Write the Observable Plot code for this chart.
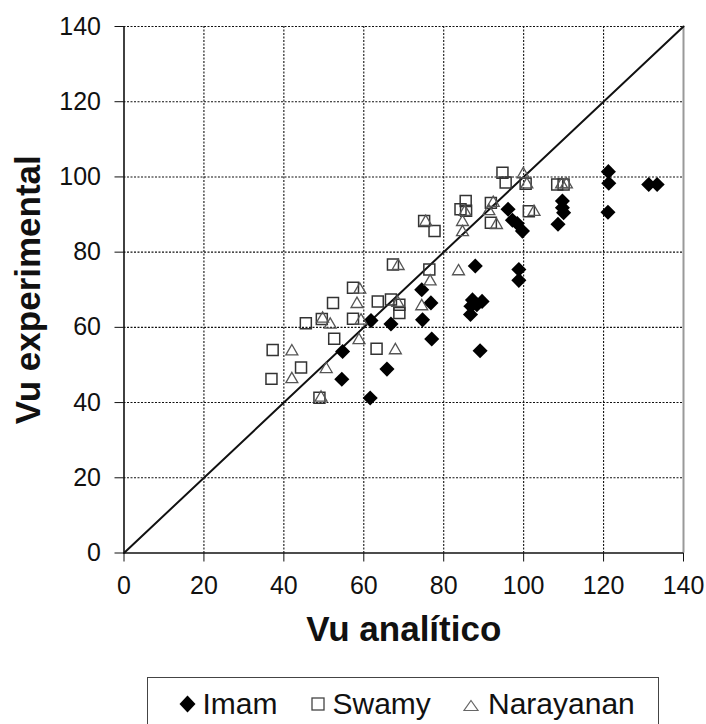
<!DOCTYPE html>
<html>
<head>
<meta charset="utf-8">
<script src="https://cdn.jsdelivr.net/npm/d3@7"></script>
<script src="https://cdn.jsdelivr.net/npm/@observablehq/plot@0.6"></script>
<style>
  body { margin: 0; background: #fff; font-family: "Liberation Sans", Arial, sans-serif; }
  #wrap { position: relative; width: 706px; height: 724px; overflow: hidden; background: #fff; }
  #chart svg { display: block; }
  #legend { position: absolute; left: 147px; top: 677px; width: 512px; height: 60px;
            border: 1.5px solid #444; border-bottom: none; box-sizing: border-box; background: #fff; }
  #legend svg { display: block; }
</style>
</head>
<body>
<div id="wrap">
  <div id="chart"></div>
  <div id="legend"></div>
</div>
<script>
// ---- data ----
const xTicks = [0, 20, 40, 60, 80, 100, 120, 140];
const yTicks = [0, 20, 40, 60, 80, 100, 120, 140];
const seriesNames = ["Imam", "Swamy", "Narayanan"];
const xTitle = "Vu analítico";
const yTitle = "Vu experimental";
const identityLine = [0, 140];

const imamX = [54.5, 54.7, 61.6, 61.8, 65.8, 66.8, 74.5, 74.7, 76.8, 77.0, 87.9, 87.2, 89.6, 88.3, 86.8, 86.7, 89.1, 96.1, 97.2, 98.4, 99.7, 98.8, 98.8, 109.7, 109.7, 110.0, 108.6, 121.2, 121.3, 121.1, 131.3, 133.4];
const imamY = [46.2, 53.6, 41.2, 61.8, 48.9, 60.9, 70.0, 62.0, 66.5, 56.9, 76.3, 67.3, 66.9, 66.0, 65.6, 63.4, 53.8, 91.4, 88.5, 87.6, 85.6, 75.4, 72.5, 93.6, 91.8, 90.5, 87.4, 101.4, 98.3, 90.6, 98.0, 98.0];

const swamyX = [36.9, 37.2, 44.3, 45.5, 48.9, 49.5, 52.3, 52.6, 57.3, 57.3, 63.2, 63.5, 66.8, 67.3, 68.9, 68.9, 75.1, 77.7, 76.4, 84.2, 85.5, 85.6, 91.8, 91.8, 94.7, 95.5, 100.5, 101.3, 108.4, 110.0];
const swamyY = [46.3, 54.0, 49.3, 61.1, 41.3, 62.2, 66.5, 57.0, 70.5, 62.3, 54.3, 66.9, 67.4, 76.7, 66.0, 63.8, 88.3, 85.6, 75.4, 91.4, 93.6, 91.0, 93.1, 87.8, 101.1, 98.5, 98.2, 90.9, 98.0, 98.0];

const narX = [42.0, 42.0, 49.3, 50.6, 49.7, 51.6, 58.8, 58.3, 59.0, 59.3, 67.9, 68.5, 68.6, 74.5, 75.5, 76.6, 83.7, 84.7, 84.7, 85.3, 91.3, 92.4, 93.2, 99.9, 100.8, 102.6, 109.5, 110.7];
const narY = [46.2, 53.6, 41.3, 48.9, 62.3, 60.7, 56.6, 66.2, 70.0, 61.8, 53.9, 66.5, 76.3, 65.6, 88.0, 72.2, 74.9, 88.0, 85.3, 90.7, 90.9, 93.1, 87.2, 100.7, 98.0, 90.7, 98.0, 98.0];

// ---- build ----
const rows = (xs, ys) => xs.map((x, i) => ({x, y: ys[i]}));
const imam = rows(imamX, imamY);
const swamy = rows(swamyX, swamyY);
const nar = rows(narX, narY);

const font = "Liberation Sans, Arial, sans-serif";
const chart = Plot.plot({
  width: 706,
  height: 672,
  marginLeft: 123.5,
  marginRight: 23,
  marginTop: 26,
  marginBottom: 119.5,
  style: {fontFamily: font, background: "white", color: "#111", overflow: "visible"},
  x: {domain: [0, 140], label: null},
  y: {domain: [0, 140], label: null},
  marks: [
    Plot.gridX({ticks: xTicks.slice(1, -1), stroke: "#111", strokeOpacity: 1, strokeWidth: 1.1, strokeDasharray: "2,1.5"}),
    Plot.gridY({ticks: yTicks.slice(1), stroke: "#111", strokeOpacity: 1, strokeWidth: 1.1, strokeDasharray: "2,1.5"}),
    Plot.ruleX([140], {stroke: "#999", strokeWidth: 2}),
    Plot.axisX({ticks: xTicks, tickSize: 9, tickPadding: 14, fontSize: 25, label: null, stroke: "#111"}),
    Plot.axisY({ticks: yTicks, tickSize: 9, tickPadding: 14, fontSize: 25, label: null, stroke: "#111"}),
    Plot.ruleY([0], {stroke: "#111", strokeWidth: 1.6}),
    Plot.ruleX([0], {stroke: "#111", strokeWidth: 1.6}),
    Plot.line(identityLine, {x: d => d, y: d => d, stroke: "#111", strokeWidth: 2}),
    Plot.dot(imam, {x: "x", y: "y", symbol: "diamond2", r: 6.8, fill: "#000", stroke: "none"}),
    Plot.dot(swamy, {x: "x", y: "y", symbol: "square", r: 6.2, fill: "none", stroke: "#333", strokeWidth: 1.5}),
    Plot.dot(nar, {x: "x", y: "y", symbol: "triangle2", r: 5.7, fill: "none", stroke: "#555", strokeWidth: 1.3}),
    Plot.text([xTitle], {text: d => d, frameAnchor: "bottom", textAnchor: "middle", dy: 87.5, fontSize: 35, fontWeight: "bold", fill: "#111"}),
    Plot.text([yTitle], {text: d => d, frameAnchor: "left", textAnchor: "middle", rotate: -90, dx: -95.5, fontSize: 35, fontWeight: "bold", fill: "#111"})
  ]
});
document.getElementById("chart").appendChild(chart);

// ---- legend (below the chart) ----
const ns = "http://www.w3.org/2000/svg";
const lsvg = document.createElementNS(ns, "svg");
lsvg.setAttribute("width", 512);
lsvg.setAttribute("height", 60);
lsvg.style.fontFamily = font;
const add = (tag, attrs, text) => {
  const el = document.createElementNS(ns, tag);
  for (const k in attrs) el.setAttribute(k, attrs[k]);
  if (text) el.textContent = text;
  lsvg.appendChild(el);
};
add("path", {d: "M39.5,17.5 L47.5,26 L39.5,34.5 L31.5,26 Z", fill: "#000"});
add("text", {x: 54.5, y: 36, "font-size": 30, fill: "#111"}, seriesNames[0]);
add("rect", {x: 164, y: 20, width: 12, height: 12, fill: "none", stroke: "#444", "stroke-width": 1.3});
add("text", {x: 184.5, y: 36, "font-size": 30, fill: "#111"}, seriesNames[1]);
add("path", {d: "M323,22.5 L330,32.5 L316,32.5 Z", fill: "none", stroke: "#666", "stroke-width": 1.2});
add("text", {x: 340, y: 36, "font-size": 30, fill: "#111"}, seriesNames[2]);
document.getElementById("legend").appendChild(lsvg);
</script>
</body>
</html>
